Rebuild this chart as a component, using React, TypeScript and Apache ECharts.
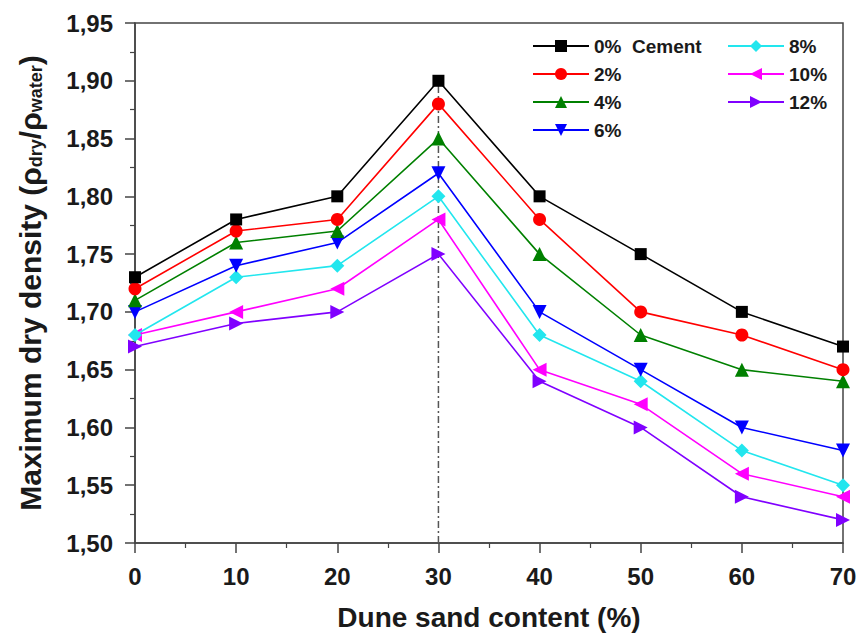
import React, { useEffect, useRef } from "react";
import * as echarts from "echarts";

const sandContent = [0, 10, 20, 30, 40, 50, 60, 70];
const seriesNames = ["0%  Cement", "2%", "4%", "6%", "8%", "10%", "12%"];
const cement0 = [1.73, 1.78, 1.80, 1.90, 1.80, 1.75, 1.70, 1.67];
const cement2 = [1.72, 1.77, 1.78, 1.88, 1.78, 1.70, 1.68, 1.65];
const cement4 = [1.71, 1.76, 1.77, 1.85, 1.75, 1.68, 1.65, 1.64];
const cement6 = [1.70, 1.74, 1.76, 1.82, 1.70, 1.65, 1.60, 1.58];
const cement8 = [1.68, 1.73, 1.74, 1.80, 1.68, 1.64, 1.58, 1.55];
const cement10 = [1.68, 1.70, 1.72, 1.78, 1.65, 1.62, 1.56, 1.54];
const cement12 = [1.67, 1.69, 1.70, 1.75, 1.64, 1.60, 1.54, 1.52];
const peakLineX = 30;
const peakLineY = [1.5, 1.9];

const allValues = [cement0, cement2, cement4, cement6, cement8, cement10, cement12];
const colors = ["#000000", "#ff0000", "#008000", "#0000ff", "#22e6ee", "#ff00ff", "#8000ff"];
const symbols = ["rect", "circle", "triangle", "triangle", "diamond", "triangle", "triangle"];
const rotations = [0, 0, 0, 180, 0, 90, -90];
const sizes = [12, 13, 14, 14, 14, 14, 14];

const FONT = "'Liberation Sans', Arial, sans-serif";
const TXT = "#1a1a1a";

export default function App() {
  const ref = useRef<HTMLDivElement>(null);
  useEffect(() => {
    if (!ref.current) return;
    const chart = echarts.init(ref.current, null, { renderer: "svg" });
    const series: any[] = allValues.map((vals, i) => ({
      name: seriesNames[i],
      type: "line",
      data: sandContent.map((x, j) => [x, vals[j]]),
      symbol: symbols[i],
      symbolSize: sizes[i],
      symbolRotate: rotations[i],
      itemStyle: { color: colors[i] },
      lineStyle: { color: colors[i], width: 1.6 },
      z: 10 - i,
    }));
    series.push({
      name: "peak",
      type: "line",
      data: peakLineY.map((y) => [peakLineX, y]),
      symbol: "none",
      silent: true,
      lineStyle: { color: "#555", width: 1.5, type: [7, 3, 2, 3] },
      z: 1,
    });
    const legendCommon = {
      orient: "vertical",
      itemWidth: 56,
      itemHeight: 15,
      itemGap: 8,
      textStyle: { fontFamily: FONT, fontWeight: "bold", fontSize: 19, lineHeight: 20, color: TXT },
      symbolRotate: "inherit",
    };
    chart.setOption({
      animation: false,
      backgroundColor: "#fff",
      grid: {
        left: 135,
        right: 18,
        top: 23,
        bottom: 94,
        show: true,
        borderColor: "#444",
        borderWidth: 1.5,
      },
      legend: [
        { ...legendCommon, left: 527, top: 31, data: seriesNames.slice(0, 4) },
        { ...legendCommon, left: 722, top: 31, data: seriesNames.slice(4) },
      ],
      xAxis: {
        type: "value",
        min: 0,
        max: 70,
        interval: 10,
        name: "Dune sand content (%)",
        nameLocation: "middle",
        nameGap: 60,
        nameTextStyle: { fontFamily: FONT, fontSize: 28, color: TXT, fontWeight: "bold" },
        axisLine: { lineStyle: { color: "#444", width: 1.5 } },
        axisTick: { inside: false, length: 10, lineStyle: { color: "#444", width: 1.5 } },
        minorTick: { show: true, splitNumber: 2, length: 5, lineStyle: { color: "#444", width: 1.2 } },
        axisLabel: { fontFamily: FONT, fontSize: 24, fontWeight: "bold", color: TXT, margin: 21 },
        splitLine: { show: false },
      },
      yAxis: {
        type: "value",
        min: 1.5,
        max: 1.95,
        interval: 0.05,
        name: "Maximum dry density (ρ{sub|dry}/ρ{sub|water})",
        nameLocation: "middle",
        nameRotate: 90,
        nameGap: 90,
        nameTextStyle: {
          fontFamily: FONT,
          fontSize: 30,
          fontWeight: "bold",
          color: TXT,
          rich: {
            sub: { fontFamily: FONT, fontSize: 18, fontWeight: "bold", color: TXT, verticalAlign: "bottom", padding: [12, 0, 0, 0] },
          },
        },
        axisLine: { lineStyle: { color: "#444", width: 1.5 } },
        axisTick: { inside: false, length: 10, lineStyle: { color: "#444", width: 1.5 } },
        minorTick: { show: true, splitNumber: 2, length: 5, lineStyle: { color: "#444", width: 1.2 } },
        axisLabel: {
          fontFamily: FONT,
          fontSize: 24,
          fontWeight: "bold",
          color: TXT,
          margin: 22,
          formatter: (v: number) => v.toFixed(2).replace(".", ","),
        },
        splitLine: { show: false },
      },
      series,
    });
    return () => chart.dispose();
  }, []);
  return <div ref={ref} style={{ width: 861, height: 637, position: "absolute", left: 0, top: 0 }} />;
}
